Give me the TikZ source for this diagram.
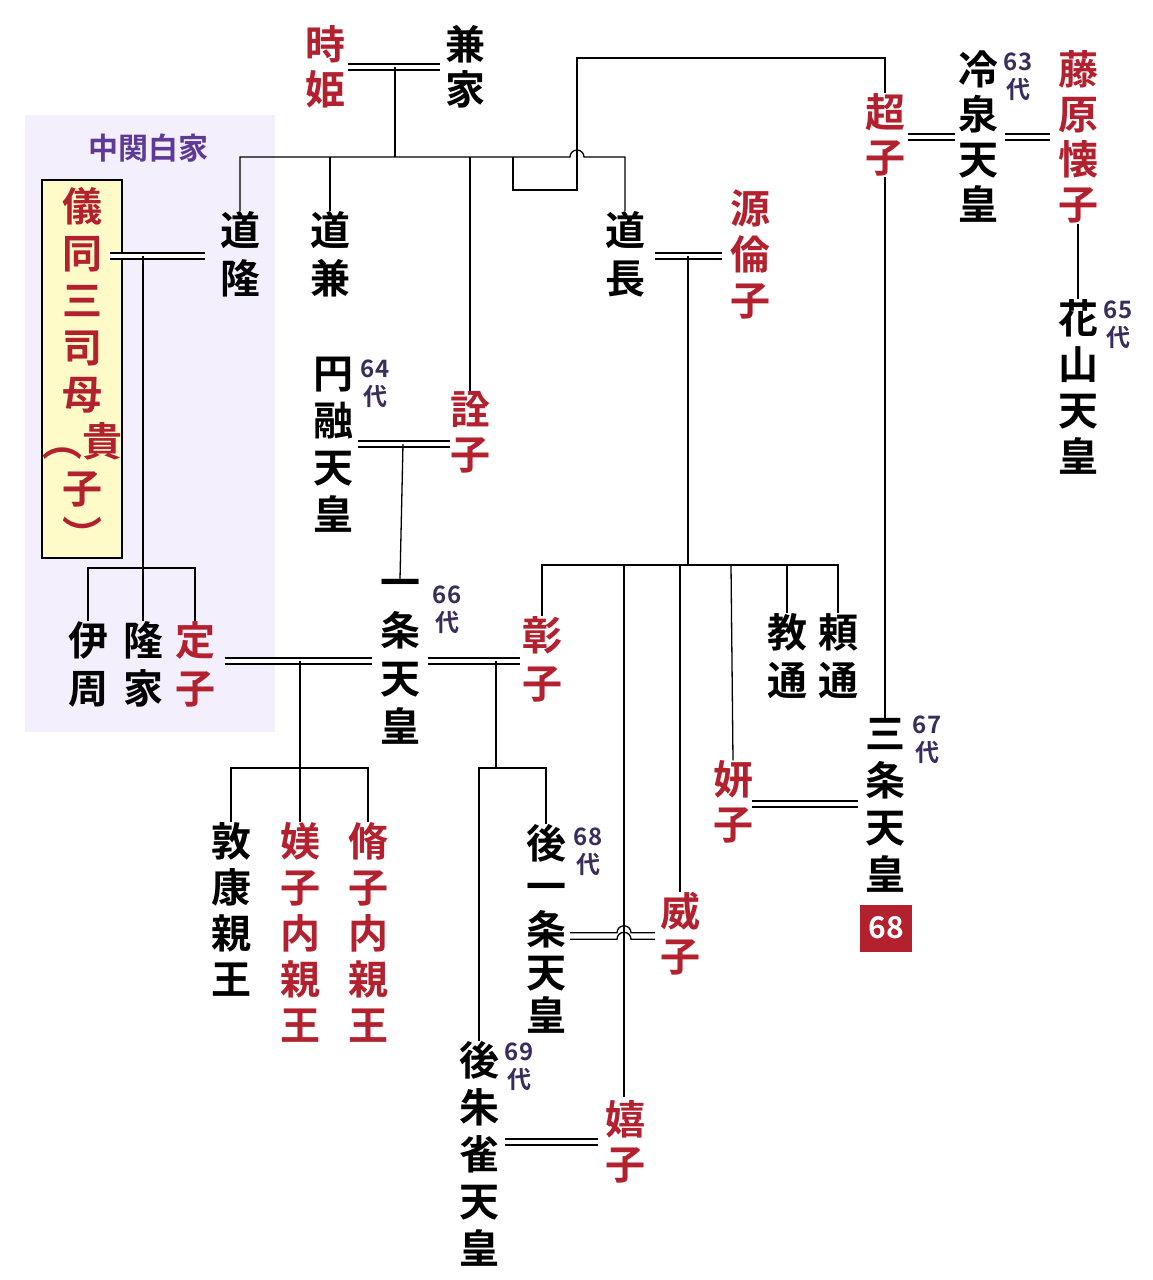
\documentclass[tikz,border=0pt]{standalone}
\usepackage{fontspec}
\newfontfamily\jp{Noto Sans CJK JP}[BoldFont={Noto Sans CJK JP Bold}]
\definecolor{rd}{HTML}{B3202E}
\definecolor{pu}{HTML}{3A2D5C}
\definecolor{pl}{HTML}{5E3A96}
\definecolor{lav}{HTML}{F4EFFC}
\definecolor{ylw}{HTML}{FFFBC8}
\begin{document}
\begin{tikzpicture}[x=1pt,y=-1pt,
  vt/.style={font=\jp\bfseries\fontsize{40}{#1}\selectfont,align=center,inner sep=0pt},
  vt/.default=47,
  red/.style={text=rd},
  dai/.style={font=\jp\bfseries\fontsize{24}{28}\selectfont,text=pu,align=center,inner sep=0pt},
  ln/.style={line width=1.3pt},
  dbl/.style={line width=1.3pt,double,double distance=4.5pt}]
\useasboundingbox (0,0) rectangle (1152,1280);
\fill[lav] (25,115) rectangle (275,732);
\node[font=\jp\bfseries\fontsize{30}{30}\selectfont,text=pl] (chukanpaku) at (148,148) {中関白家};
% nodes
\node[vt=45,red] (toki) at (325,67) {時\\姫};
\node[vt=45] (kane) at (465,67) {兼\\家};
\node[vt=48] (dotaka) at (240,254) {道\\隆};
\node[vt=48] (dokane) at (330,254) {道\\兼};
\node[vt=48] (michinaga) at (625,254) {道\\長};
\node[vt=46,red] (rinshi) at (750,254) {源\\倫\\子};
\node[vt=47,red,draw=black,line width=1.3pt,fill=ylw,minimum width=56pt,minimum height=378pt] (kishi) at (82,369) {儀\\同\\三\\司\\母\\︵貴\\子\\︶};
\node[vt=48] (korechika) at (88,664) {伊\\周};
\node[vt=48] (takaie) at (143,664) {隆\\家};
\node[vt=48,red] (teishi) at (195,664) {定\\子};
\node[vt=47] (enyu) at (333,445) {円\\融\\天\\皇};
\node[dai] (d64) at (375,384) {64\\代};
\node[vt=45,red] (senshi) at (470,432) {詮\\子};
\node[vt=48] (ichijo) at (400,662) {一\\条\\天\\皇};
\node[dai] (d66) at (447,610) {66\\代};
\node[vt=48,red] (shoshi) at (542,659) {彰\\子};
\node[vt=48] (norimichi) at (787,656) {教\\通};
\node[vt=48] (yorimichi) at (838,656) {頼\\通};
\node[vt=46] (atsuyasu) at (231,909) {敦\\康\\親\\王};
\node[vt=46,red] (bishi) at (300,932) {媄\\子\\内\\親\\王};
\node[vt=46,red] (shushi) at (368,932) {脩\\子\\内\\親\\王};
\node[vt=43] (goichijo) at (546,929) {後\\一\\条\\天\\皇};
\node[dai] (d68) at (588,852) {68\\代};
\node[vt=45,red] (ishi) at (680,934) {威\\子};
\node[vt=47] (gosuzaku) at (479,1154) {後\\朱\\雀\\天\\皇};
\node[dai] (d69) at (519,1067) {69\\代};
\node[vt=45,red] (kishi2) at (625,1142) {嬉\\子};
\node[vt=45,red] (kenshi) at (733,802) {妍\\子};
\node[vt=47] (sanjo) at (885,805) {三\\条\\天\\皇};
\node[dai] (d67) at (927,740) {67\\代};
\node[fill=rd,text=white,font=\jp\bfseries\fontsize{30}{30}\selectfont,minimum width=52pt,minimum height=47pt,inner sep=0pt] (b68) at (886,928) {68};
\node[vt=45,red] (choshi) at (885,135) {超\\子};
\node[vt=45] (reizei) at (978,137) {冷\\泉\\天\\皇};
\node[dai] (d63) at (1018,77) {63\\代};
\node[vt=45,red] (kaishi) at (1078,137) {藤\\原\\懐\\子};
\node[vt=46] (kazan) at (1078,387) {花\\山\\天\\皇};
\node[dai] (d65) at (1118,325) {65\\代};
% coordinates
\coordinate (kk) at (395,67);
\coordinate (sib) at (395,157);
\coordinate (mn) at (143,256);
\coordinate (mr) at (688,256);
\coordinate (eh) at (403,444);
\coordinate (tc) at (300,661);
\coordinate (sc) at (496,661);
\coordinate (gi) at (624,936);
% marriages
\draw[dbl] (348,67) -- (440,67);
\draw[dbl] (110,256) -- (205,256);
\draw[dbl] (655,256) -- (722,256);
\draw[dbl] (358,444) -- (450,444);
\draw[dbl] (225,661) -- (372,661);
\draw[dbl] (428,661) -- (520,661);
\draw[dbl] (908,137) -- (955,137);
\draw[dbl] (1005,137) -- (1050,137);
\draw[dbl] (752,804) -- (858,804);
\draw[dbl] (505,1142) -- (598,1142);
\draw[ln] (570,932.75) -- (617,932.75) arc(180:360:7) -- (655,932.75);
\draw[ln] (570,939.25) -- (617,939.25) arc(180:360:7) -- (655,939.25);
% descents
\draw[ln] (kk) -- (sib);
\draw[ln] (dotaka.north) |- (570,157) arc(180:360:7) -| (michinaga.north);
\draw[ln] (dokane.north) -- (330,157);
\draw[ln] (senshi.north) -- (470,157);
\draw[ln] (513,157) -- (513,190) -- (577,190) -- (577,58) -| (choshi.north);
\draw[ln] (choshi.south) -- (sanjo.north);
\draw[ln] (kaishi.south) -- (kazan.north);
\draw[ln] (mn) -- (143,568);
\draw[ln] (korechika.north) |- (teishi.north |- 0,568) -- (teishi.north);
\draw[ln] (143,568) -- (takaie.north);
\draw[ln] (mr) -- (688,565);
\draw[ln] (shoshi.north) |- (yorimichi.north |- 0,565) -- (yorimichi.north);
\draw[ln] (787,565) -- (norimichi.north);
\draw[ln] (731,565) -- (kenshi.north);
\draw[ln] (680,565) -- (ishi.north);
\draw[ln] (624,565) -- (624,1097);
\draw[ln] (eh) -- (ichijo.north);
\draw[ln] (tc) -- (300,768);
\draw[ln] (atsuyasu.north) |- (shushi.north |- 0,768) -- (shushi.north);
\draw[ln] (300,768) -- (bishi.north);
\draw[ln] (sc) -- (496,768);
\draw[ln] (gosuzaku.north) |- (goichijo.north |- 0,768) -- (goichijo.north);
\end{tikzpicture}
\end{document}
